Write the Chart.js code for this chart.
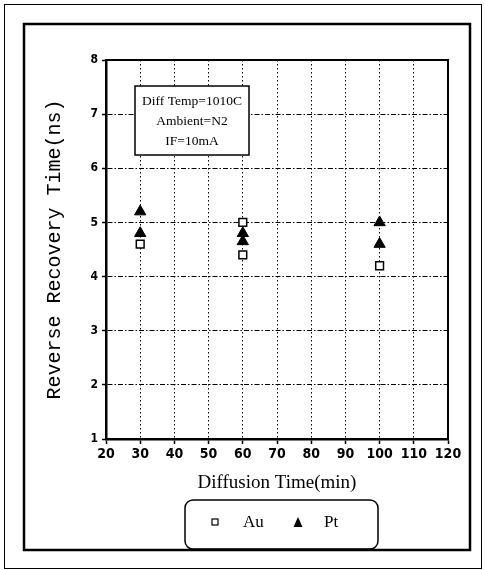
<!DOCTYPE html>
<html>
<head>
<meta charset="utf-8">
<script src="https://cdn.jsdelivr.net/npm/chart.js@4/dist/chart.umd.min.js"></script>
<style>
  html, body { margin: 0; padding: 0; background: #fff; }
  #wrap { width: 485px; height: 570px; position: relative; }
</style>
</head>
<body>
<div id="wrap"><canvas id="recoveryChart" width="485" height="570"></canvas></div>
<script>
// measured points: diffusion time (min) vs reverse recovery time (ns)
const auTime = [30, 60, 60, 100];
const auRecovery = [4.6, 5.0, 4.4, 4.2];
const ptTime = [30, 30, 60, 60, 100, 100];
const ptRecovery = [5.2, 4.8, 4.8, 4.65, 5.0, 4.6];

const xRange = [20, 120];
const yRange = [1, 8];
const conditions = ["Diff Temp=1010C", "Ambient=N2", "IF=10mA"];

const toPoints = (xs, ys) => xs.map((x, i) => ({ x: x, y: ys[i] }));

const narrow = "'Liberation Sans Narrow', 'DejaVu Sans Condensed', 'Liberation Sans', sans-serif";
const serif = "'Liberation Serif', 'DejaVu Serif', serif";

/* frames, plot border, condition box and legend */
const decorations = {
  id: "decorations",
  beforeDraw(chart) {
    const c = chart.ctx;
    c.save();
    c.fillStyle = "#fff";
    c.fillRect(0, 0, chart.width, chart.height);
    c.strokeStyle = "#000";
    c.lineWidth = 1;
    c.strokeRect(4.5, 4.5, 477, 564);
    c.lineWidth = 2.5;
    c.strokeRect(24, 24, 446, 526);
    c.restore();
  },
  afterDraw(chart) {
    const c = chart.ctx;
    const a = chart.chartArea;
    c.save();
    c.strokeStyle = "#000";
    c.lineWidth = 2;
    c.beginPath();
    c.moveTo(a.left, a.top);
    c.lineTo(a.right, a.top);
    c.lineTo(a.right, a.bottom);
    c.stroke();

    // test conditions box
    c.fillStyle = "#fff";
    c.fillRect(135, 86, 114, 69);
    c.lineWidth = 1.5;
    c.strokeRect(135, 86, 114, 69);
    c.fillStyle = "#000";
    c.font = "13.5px " + serif;
    c.textAlign = "center";
    c.textBaseline = "middle";
    [101, 121, 141].forEach((y, i) => c.fillText(conditions[i], 192, y));

    // legend
    c.lineWidth = 1.5;
    c.beginPath();
    c.roundRect(185, 500, 193, 49, 8);
    c.stroke();
    const sets = chart.data.datasets;
    c.lineWidth = 1.2;
    c.strokeRect(212, 519, 6, 6);
    c.beginPath();
    c.moveTo(298, 517);
    c.lineTo(302.5, 527);
    c.lineTo(293.5, 527);
    c.closePath();
    c.fill();
    c.font = "17px " + serif;
    c.textAlign = "left";
    c.fillText(sets[0].label, 243, 523);
    c.fillText(sets[1].label, 324, 523);
    c.restore();
  }
};

new Chart(document.getElementById("recoveryChart"), {
  type: "scatter",
  data: {
    datasets: [
      {
        label: "Au",
        data: toPoints(auTime, auRecovery),
        pointStyle: "rect",
        pointRadius: 5.5,
        borderColor: "#000",
        backgroundColor: "#fff",
        borderWidth: 1.5
      },
      {
        label: "Pt",
        data: toPoints(ptTime, ptRecovery),
        pointStyle: "triangle",
        pointRadius: 6.5,
        borderColor: "#000",
        backgroundColor: "#000",
        borderWidth: 1
      }
    ]
  },
  options: {
    responsive: false,
    animation: false,
    layout: { padding: { left: 0, top: 60, right: 37, bottom: 0 } },
    plugins: {
      legend: { display: false },
      tooltip: { enabled: false }
    },
    scales: {
      x: {
        type: "linear",
        min: xRange[0],
        max: xRange[1],
        afterFit: s => { s.height = 131; },
        ticks: {
          stepSize: 10,
          color: "#000",
          padding: 2,
          maxRotation: 0,
          font: { family: narrow, size: 14, weight: "bold" }
        },
        grid: {
          color: "#000",
          lineWidth: 1,
          tickLength: 5,
          tickColor: "#000",
          tickWidth: 1.5
        },
        border: { display: true, color: "#000", width: 2.5, dash: [1.5, 2.5] },
        title: {
          display: true,
          text: "Diffusion Time(min)",
          color: "#000",
          font: { family: serif, size: 19 },
          padding: { top: 0, bottom: 76 }
        }
      },
      y: {
        type: "linear",
        min: yRange[0],
        max: yRange[1],
        afterFit: s => { s.width = 106; },
        ticks: {
          stepSize: 1,
          color: "#000",
          padding: 4,
          font: { family: narrow, size: 12, weight: "bold" }
        },
        grid: {
          color: "#000",
          lineWidth: 1,
          tickLength: 4,
          tickColor: "#000",
          tickWidth: 1.5
        },
        border: { display: true, color: "#000", width: 2.5, dash: [5, 2, 1.5, 2] },
        title: {
          display: true,
          text: "Reverse Recovery Time(ns)",
          color: "#000",
          font: { family: "'Liberation Mono', 'DejaVu Sans Mono', monospace", size: 20 },
          padding: { top: 43, bottom: 0 }
        }
      }
    }
  },
  plugins: [decorations]
});
</script>
</body>
</html>
